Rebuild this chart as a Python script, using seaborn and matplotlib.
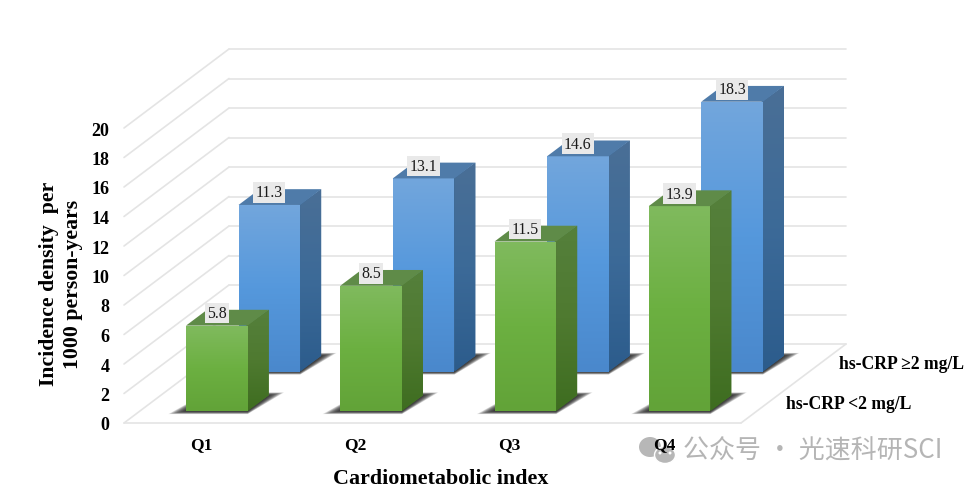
import numpy as np
import pandas as pd
import matplotlib
matplotlib.use("Agg")
import matplotlib.pyplot as plt
from matplotlib.colors import to_rgb
from matplotlib.patches import Ellipse, Polygon
from matplotlib.transforms import Affine2D
import seaborn as sns

# ---- data ----
quartiles = ["Q1", "Q2", "Q3", "Q4"]
crp_low = [5.8, 8.5, 11.5, 13.9]
crp_high = [11.3, 13.1, 14.6, 18.3]
series_labels = ["hs-CRP <2 mg/L", "hs-CRP \u22652 mg/L"]
y_ticks = list(range(0, 21, 2))
x_title = "Cardiometabolic index"
y_title = "Incidence density  per\n1000 person-years"
watermark = "公众号 · 光速科研SCI"

# ---- style ----
W, H = 970, 489
L_PX, R_PX, BOT_PX, TOP_PX = 124, 741, 424, 129
DX = 52.5 / ((R_PX - L_PX) / 4)      # oblique shift per depth row, category units
DY = 39.5 / ((BOT_PX - TOP_PX) / 20)  # oblique shift per depth row, value units
BAR_W, BAR_D, BAR_START = 0.40, 0.40, 0.30
GRID = "#e4e4e4"
SERIF = "Liberation Serif"

sns.set_theme(style="white")
plt.rcParams["font.family"] = [SERIF, "DejaVu Sans"]

fig = plt.figure(figsize=(W / 100, H / 100), dpi=100, facecolor="white")
ax = fig.add_axes([L_PX / W, (H - BOT_PX) / H, (R_PX - L_PX) / W, (BOT_PX - TOP_PX) / H])
ax.set_facecolor("none")
ax.set_autoscale_on(False)
XMIN, XMAX, YMIN, YMAX = -0.5, 3.5, 0, 20
ax.set_xlim(XMIN, XMAX)
ax.set_ylim(YMIN, YMAX)


def proj(x, y, d):
    return x + d * DX, y + d * DY


def gradient(verts, stops, zorder):
    """Vertical colour gradient clipped to a polygon (top colour first)."""
    verts = np.asarray(verts)
    x0, y0 = verts.min(axis=0)
    x1, y1 = verts.max(axis=0)
    pos = np.linspace(0, 1, len(stops))
    t = np.linspace(0, 1, 128)
    rgb = np.array([to_rgb(c) for c in stops])
    arr = np.stack([np.interp(t, pos, rgb[:, i]) for i in range(3)], axis=1)[:, None, :]
    im = ax.imshow(arr, extent=(x0, x1, y0, y1), origin="upper", aspect="auto",
                   interpolation="bilinear", zorder=zorder)
    clip = Polygon(verts, closed=True, transform=ax.transData, fill=False, edgecolor="none")
    im.set_clip_box(fig.bbox)
    im.set_clip_path(clip)
    return im


# ---- walls and floor ----
def line(xs, ys, **kw):
    ax.plot(xs, ys, color=GRID, lw=1.2, clip_on=False, solid_capstyle="round", zorder=1, **kw)


for v in y_ticks:
    bx, by = proj(XMIN, v, 2)
    ex, _ = proj(XMAX, v, 2)
    line([XMIN, bx], [v, by])
    line([bx, ex], [by, by])
line([XMIN, XMAX], [0, 0])
fx, fy = proj(XMAX, 0, 2)
line([XMAX, fx], [0, fy])


def shadow(cx, d0, zorder):
    """Soft cast shadow made of stacked translucent parallelograms."""
    hw = BAR_W / 2
    steps = 16
    for i in range(steps):
        f = 1 - i / steps
        a = proj(cx - hw - 0.115 * f, -0.20 * f, d0)
        b = proj(cx + hw, -0.20 * f, d0)
        c = proj(cx + hw + 0.10 * f, 0.20 * f, d0 + BAR_D)
        d = proj(cx - hw, 0.20 * f, d0 + BAR_D)
        ax.add_patch(Polygon([a, b, c, d], closed=True, facecolor="#161616", edgecolor="none",
                             alpha=0.10, clip_on=False, zorder=zorder))


def bars3d(values, row, front, side, top, z):
    d0 = row + BAR_START
    df = pd.DataFrame({"quartile": quartiles, "value": values})
    for i in range(len(values)):
        shadow(i, d0, z)
    n_before = len(ax.patches)
    sns.barplot(data=df, x="quartile", y="value", ax=ax, color=front[1], saturation=1,
                width=BAR_W, errorbar=None, zorder=z + 1, linewidth=0, edgecolor="none")
    bar_patches = ax.patches[n_before:]
    for i, (patch, v) in enumerate(zip(bar_patches, values)):
        xoff, base = proj(0, 0, d0)
        patch.set_x(patch.get_x() + xoff)
        patch.set_y(base)
        patch.set_clip_on(False)
        patch.set_edgecolor("none")
        patch.set_linewidth(0)
        x0, x1 = patch.get_x(), patch.get_x() + patch.get_width()
        y0, y1 = base, base + v
        bx, by = DX * BAR_D, DY * BAR_D
        # solid underlay of the side face closes the seam between the faces
        ax.add_patch(Polygon([(x1 - 0.01, y0), (x1 + bx, y0 + by), (x1 + bx, y1 + by), (x1 - 0.01, y1)],
                             closed=True, facecolor=side[1], edgecolor="none",
                             clip_on=False, zorder=z + 0.5))
        gradient([(x0, y0), (x1, y0), (x1, y1), (x0, y1)], front, z + 2)
        # right-hand side face
        gradient([(x1, y0), (x1 + bx, y0 + by), (x1 + bx, y1 + by), (x1, y1)], side, z + 2)
        # top face
        ax.add_patch(Polygon([(x0, y1), (x1, y1), (x1 + bx, y1 + by), (x0 + bx, y1 + by)],
                             closed=True, facecolor=top, edgecolor="none",
                             clip_on=False, zorder=z + 2))
        ax.annotate(f"{v:.1f}", xy=((x0 + x1) / 2, y1), xytext=(0, 9.0), textcoords="offset points",
                    ha="center", va="center", fontsize=11.4, color="#1a1a1a", family=SERIF,
                    annotation_clip=False, zorder=30,
                    bbox=dict(boxstyle="square,pad=0.15", facecolor="#e9e9e9", edgecolor="none"))


bars3d(crp_high, 1, ["#72a6dd", "#5598dc", "#4a88cc"], ["#4a6f96", "#3c6a98", "#2c5c8c"], "#4f7ba9", 3)
bars3d(crp_low, 0, ["#80ba5e", "#6cb041", "#62a338"], ["#55803c", "#4f7a30", "#3e6d20"], "#5f8b48", 10)

# ---- axes text ----
for s in ax.spines.values():
    s.set_visible(False)
ax.set_xlim(XMIN, XMAX)
ax.set_ylim(YMIN, YMAX)
ax.set_yticks(y_ticks)
ax.set_yticklabels([str(v) for v in y_ticks])
ax.set_xticks(range(len(quartiles)))
ax.set_xticklabels(quartiles)
ax.tick_params(axis="y", length=0, pad=10.5, labelsize=13, labelcolor="black")
ax.tick_params(axis="x", length=0, pad=9.5, labelsize=12.6, labelcolor="black")
for t in ax.get_xticklabels() + ax.get_yticklabels():
    t.set_fontweight("bold")
    t.set_family(SERIF)
ax.set_xlabel("")
ax.set_ylabel("")

fig.text(441 / W, 1 - 479.5 / H, x_title, ha="center", va="center", fontsize=15.8,
         fontweight="bold", family=SERIF, color="black", zorder=5)
fig.text(61 / W, 1 - 284 / H, y_title, ha="center", va="center", rotation=90, fontsize=15.7,
         fontweight="bold", family=SERIF, color="black", linespacing=1.3, zorder=5,
         multialignment="center")

for row, lab in enumerate(series_labels):
    ax.annotate(lab, xy=proj(XMAX, 0, row + 0.5), xytext=(13.7, 0), textcoords="offset points",
                ha="left", va="center", fontsize=12.7, fontweight="bold", family=SERIF,
                color="black", annotation_clip=False)

# ---- watermark ----
px = Affine2D().scale(1, -1).translate(0, H)
icon = "#b7b7b7"
for (cx, cy, w, h, fc, ec) in [(650, 448, 22, 20, icon, "none"), (665, 456, 21, 17, icon, "white")]:
    fig.add_artist(Ellipse((cx, cy), w, h, transform=px, facecolor=fc, edgecolor=ec, lw=1, zorder=-1))
for (cx, cy) in [(660, 454), (670, 454)]:
    fig.add_artist(Ellipse((cx, cy), 3, 3, transform=px, facecolor="white", edgecolor="none", zorder=-1))
fig.text(683 / W, 1 - 451 / H, watermark, ha="left", va="center", fontsize=18.7, color="#b5b5b5",
         family=["Noto Sans CJK SC", "DejaVu Sans"], zorder=-1)

fig.savefig("out.png", dpi=100, facecolor="white")
